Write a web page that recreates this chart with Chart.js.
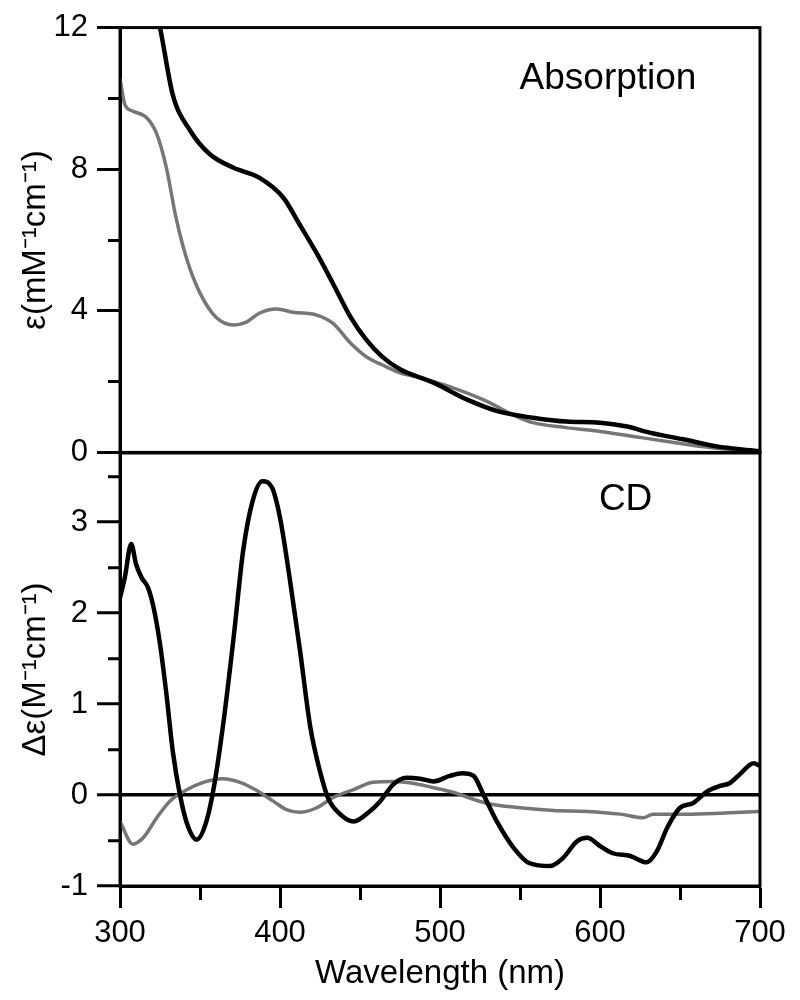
<!DOCTYPE html>
<html><head><meta charset="utf-8">
<script src="https://cdn.jsdelivr.net/npm/chart.js@4/dist/chart.umd.min.js"></script>
<style>
html,body{margin:0;padding:0;background:#fff;}
#wrap{position:relative;width:800px;height:1000px;background:#fff;}
#cTop{position:absolute;left:0;top:0;}
#cBot{position:absolute;left:0;top:400px;}
</style></head><body>
<div id="wrap">
<canvas id="cTop" width="800" height="480" style="width:800px;height:480px"></canvas>
<canvas id="cBot" width="800" height="600" style="width:800px;height:600px"></canvas>
</div>
<script>
// ---- Absorption panel data ----
const absBlackNm  = [300, 310, 318, 325, 333, 344, 356, 371, 387, 402, 412, 423, 433, 444, 454, 464, 475, 496, 517, 537, 558, 579, 600, 617, 631, 652, 673, 694, 700];
const absBlackVal = [17.5, 15.2, 13.3, 12.0, 10.1, 9.08, 8.43, 8.04, 7.76, 7.2, 6.46, 5.62, 4.78, 3.83, 3.18, 2.7, 2.35, 1.97, 1.49, 1.15, 0.98, 0.87, 0.84, 0.73, 0.56, 0.37, 0.17, 0.06, 0.03];
const absGrayNm   = [300, 303, 308, 317, 323, 329, 335, 342, 350, 360, 371, 379, 387, 398, 408, 423, 433, 444, 454, 464, 475, 485, 506, 527, 548, 558, 579, 600, 621, 642, 662, 682, 700];
const absGrayVal  = [10.57, 9.83, 9.64, 9.44, 8.99, 8.04, 6.63, 5.42, 4.50, 3.82, 3.6, 3.68, 3.93, 4.05, 3.96, 3.88, 3.65, 3.09, 2.7, 2.47, 2.25, 2.14, 1.86, 1.49, 1.01, 0.84, 0.70, 0.59, 0.45, 0.31, 0.17, 0.08, 0.03];

// ---- CD panel data ----
const cdBlackNm  = [300, 303, 307, 310, 313.5, 317.5, 321, 325, 329, 333, 337.5, 342, 348, 354, 359, 364.5, 371, 377, 383, 389, 395, 400, 406, 412.5, 419, 425, 430, 437.5, 446, 456, 462.5, 471, 479, 487.5, 496, 506, 514, 521, 527, 535.5, 546, 556, 569, 577, 585.5, 592, 600, 608, 619, 629, 635.5, 642, 650, 658, 667, 675, 681, 687.5, 696, 700];
const cdBlackVal = [2.17, 2.39, 2.76, 2.54, 2.39, 2.28, 2.06, 1.66, 1.11, 0.48, 0.0, -0.32, -0.49, -0.29, 0.12, 0.78, 1.73, 2.69, 3.24, 3.45, 3.38, 3.05, 2.39, 1.59, 0.74, 0.26, -0.03, -0.21, -0.29, -0.18, -0.07, 0.12, 0.19, 0.18, 0.15, 0.21, 0.24, 0.21, 0.01, -0.29, -0.58, -0.75, -0.78, -0.69, -0.51, -0.47, -0.56, -0.64, -0.67, -0.74, -0.62, -0.36, -0.14, -0.09, 0.04, 0.10, 0.13, 0.23, 0.35, 0.32];
const cdGrayNm   = [300, 308, 314.5, 323, 331, 342, 352, 364.5, 375, 385.5, 396, 404, 412.5, 423, 433, 446, 458, 471, 483, 496, 508, 529, 550, 571, 592, 612.5, 627, 633, 654, 675, 700];
const cdGrayVal  = [-0.29, -0.54, -0.47, -0.25, -0.07, 0.06, 0.14, 0.18, 0.14, 0.05, -0.07, -0.16, -0.19, -0.14, -0.03, 0.06, 0.14, 0.15, 0.13, 0.08, 0.03, -0.09, -0.14, -0.17, -0.18, -0.21, -0.25, -0.21, -0.21, -0.2, -0.18];

// ---- axes / labels ----
const xMin = 300, xMax = 700, xStep = 50, xLabelStep = 100;
const absMin = 0, absMax = 12, absStep = 2, absLabelStep = 4;
const cdMin = -1, cdMax = 3.76, cdStep = 0.5;
const xTitle = 'Wavelength (nm)';
const absTitle = 'ε(mM⁻¹cm⁻¹)';
const cdTitle = 'Δε(M⁻¹cm⁻¹)';
const absLabel = {text: 'Absorption', x: 605, y: 10.26};
const cdLabel = {text: 'CD', x: 616, y: 3.13};

const FONT = "'Liberation Sans', Arial, Helvetica, sans-serif";
const BLACK = '#000000', GRAY = '#767676';

function pts(xs, ys) { return xs.map((x, i) => ({x: x, y: ys[i]})); }

const framePlugin = {
  id: 'frame',
  afterDatasetsDraw(chart) {
    const {ctx, chartArea: a} = chart;
    ctx.save();
    ctx.strokeStyle = '#000'; ctx.lineWidth = 3;
    ctx.strokeRect(a.left, a.top, a.right - a.left, a.bottom - a.top);
    ctx.restore();
  }
};
function textPlugin(lbl) {
  return {
    id: 'txt',
    afterDraw(chart) {
      const ctx = chart.ctx;
      const x = chart.scales.x.getPixelForValue(lbl.x);
      const y = chart.scales.y.getPixelForValue(lbl.y);
      ctx.save();
      ctx.font = '37px ' + FONT;
      ctx.fillStyle = '#000';
      ctx.textAlign = 'center';
      ctx.textBaseline = 'alphabetic';
      ctx.fillText(lbl.text, x, y);
      ctx.restore();
    }
  };
}

function lineDs(xs, ys, color, w) {
  return {data: pts(xs, ys), borderColor: color, borderWidth: w, pointRadius: 0,
          fill: false, cubicInterpolationMode: 'monotone'};
}

const yTickFont = {family: FONT, size: 31};
const titleFont = {family: FONT, size: 33};

// ---- top chart: Absorption ----
new Chart(document.getElementById('cTop'), {
  type: 'line',
  data: {datasets: [
    lineDs(absBlackNm, absBlackVal, BLACK, 4.5),
    lineDs(absGrayNm, absGrayVal, GRAY, 3.5)
  ]},
  options: {
    responsive: false, animation: false, events: [],
    layout: {padding: {top: 26, right: 40, bottom: 27, left: 0}},
    plugins: {legend: {display: false}, tooltip: {enabled: false}},
    scales: {
      x: {type: 'linear', min: xMin, max: xMax, display: false},
      y: {
        type: 'linear', min: absMin, max: absMax,
        ticks: {stepSize: absStep, autoSkip: false, color: '#000', font: yTickFont, padding: 9,
                callback: v => (v % absLabelStep === 0 ? String(v) : '')},
        grid: {drawOnChartArea: false, tickLength: 23, tickWidth: 3, tickColor: '#000',
               tickBorderDash: c => (c.tick && c.tick.value % absLabelStep !== 0) ? [0, 11, 12, 100] : []},
        border: {display: true, width: 3, color: '#000'},
        title: {display: true, text: absTitle, color: '#000', font: titleFont, padding: {top: 16, bottom: 0}},
        afterFit: s => { s.width = 120; }
      }
    }
  },
  plugins: [framePlugin, textPlugin(absLabel)]
});

// ---- bottom chart: CD ----
new Chart(document.getElementById('cBot'), {
  type: 'line',
  data: {datasets: [
    lineDs(cdBlackNm, cdBlackVal, BLACK, 4.5),
    lineDs(cdGrayNm, cdGrayVal, GRAY, 3.5)
  ]},
  options: {
    responsive: false, animation: false, events: [],
    layout: {padding: {top: 53, right: 40, bottom: 0, left: 0}},
    plugins: {legend: {display: false}, tooltip: {enabled: false}},
    scales: {
      x: {
        type: 'linear', min: xMin, max: xMax,
        ticks: {stepSize: xStep, autoSkip: false, maxRotation: 0, color: '#000', font: yTickFont, padding: 7,
                callback: v => (v % xLabelStep === 0 ? String(v) : '')},
        grid: {drawOnChartArea: false, tickLength: 22, tickWidth: 3, tickColor: '#000',
               tickBorderDash: c => (c.tick && c.tick.value % xLabelStep !== 0) ? [12, 100] : []},
        border: {display: true, width: 3, color: '#000'},
        title: {display: true, text: xTitle, color: '#000', font: titleFont, padding: {top: 0, bottom: 6}},
        afterFit: s => { s.height = 114; }
      },
      y: {
        type: 'linear', min: cdMin, max: cdMax,
        ticks: {stepSize: cdStep, includeBounds: false, autoSkip: false, color: '#000', font: yTickFont, padding: 9,
                callback: v => (Number.isInteger(v) ? String(v) : '')},
        grid: {drawOnChartArea: true, lineWidth: 3.5,
               color: c => (c.tick && c.tick.value === 0) ? '#000' : 'rgba(0,0,0,0)',
               tickLength: 23, tickWidth: 3, tickColor: '#000',
               tickBorderDash: c => (c.tick && !Number.isInteger(c.tick.value)) ? [0, 11, 12, 100] : []},
        border: {display: true, width: 3, color: '#000'},
        title: {display: true, text: cdTitle, color: '#000', font: titleFont, padding: {top: 16, bottom: 0}},
        afterFit: s => { s.width = 120; }
      }
    }
  },
  plugins: [framePlugin, textPlugin(cdLabel)]
});
</script>
</body></html>
